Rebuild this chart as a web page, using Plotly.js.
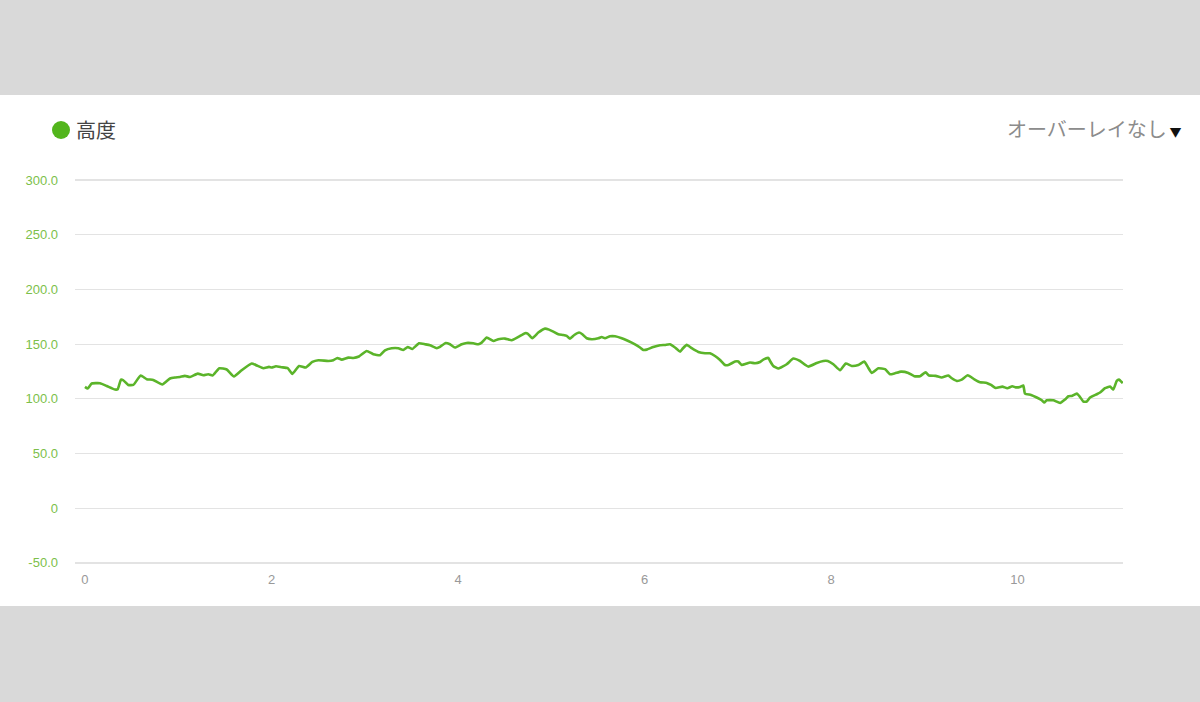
<!DOCTYPE html>
<html>
<head>
<meta charset="utf-8">
<script src="https://cdn.plot.ly/plotly-3.0.1.min.js"></script>
<style>
html,body{margin:0;padding:0;width:1200px;height:702px;background:#d9d9d9;overflow:hidden;}
#panel{position:absolute;left:0;top:95px;width:1200px;height:511px;background:#ffffff;}
#chart{position:absolute;left:0;top:0;width:1200px;height:702px;}
</style>
</head>
<body>
<div id="panel"></div>
<div id="chart"></div>
<script>
const seriesName = "高度";
const overlayLabel = "オーバーレイなし";
const distance = [0,0.029,0.072,0.161,0.233,0.322,0.351,0.386,0.411,0.464,0.518,0.597,0.662,0.732,0.829,0.912,0.965,1.019,1.072,1.126,1.209,1.269,1.322,1.369,1.440,1.520,1.598,1.680,1.788,1.853,1.912,1.973,2.002,2.048,2.109,2.174,2.223,2.295,2.367,2.438,2.502,2.609,2.663,2.706,2.753,2.824,2.877,2.938,3.021,3.092,3.164,3.217,3.289,3.360,3.413,3.461,3.510,3.582,3.646,3.700,3.772,3.807,3.868,3.914,3.968,4.040,4.093,4.164,4.218,4.254,4.308,4.379,4.432,4.504,4.576,4.647,4.718,4.747,4.797,4.861,4.933,4.976,5.022,5.076,5.129,5.166,5.201,5.247,5.298,5.333,5.380,5.434,5.505,5.541,5.576,5.630,5.684,5.756,5.826,5.898,5.952,5.987,6.024,6.094,6.166,6.220,6.273,6.320,6.381,6.410,6.453,6.506,6.577,6.649,6.702,6.756,6.810,6.863,6.899,6.971,7.006,7.042,7.096,7.131,7.185,7.239,7.274,7.328,7.346,7.381,7.435,7.525,7.596,7.668,7.756,7.847,7.917,7.965,8.025,8.097,8.158,8.222,8.293,8.357,8.394,8.437,8.507,8.579,8.633,8.686,8.751,8.829,8.893,8.954,9.015,9.051,9.123,9.187,9.258,9.295,9.348,9.402,9.466,9.537,9.598,9.670,9.716,9.766,9.837,9.890,9.944,9.981,10.027,10.062,10.080,10.145,10.206,10.260,10.287,10.313,10.384,10.456,10.509,10.545,10.581,10.635,10.670,10.706,10.742,10.777,10.849,10.885,10.938,10.992,11.027,11.064,11.088,11.128];
const elevation = [110.9,109.4,114,114.3,111.8,108.5,108.8,117.6,117,112.7,112.7,121.3,118,117.3,113.1,118.6,119.5,120,121,120,123.1,121.6,122.5,121.3,128,126.8,120.4,126.1,132.3,130.1,128,129.2,128.7,129.8,128.9,128,122.8,130.1,128.6,133.7,135.3,134.6,135.3,137.4,135.9,137.7,137.4,138.7,143.8,140.8,139.9,144.4,146.3,146.3,144.7,147.4,145.6,150.8,149.9,149,146.3,147.5,151.1,149.9,146.9,149.9,151.1,150.8,149.9,151.4,156,152.9,154.5,155.1,153.6,156.6,160,159.7,155.4,160.6,164.2,163.3,161.5,159.1,158.4,157.5,155.1,158.4,160.6,159.1,155.4,154.5,155.4,156.6,155.4,157.2,157.2,155.4,152.9,149.9,146.9,144.7,145,147.4,149,149.3,149.9,147.4,143.2,146,149.3,146.3,142.9,141.7,141.7,139.2,135.6,131,131,134.1,134.1,131,132.3,133.2,132.5,133.7,135.9,137.4,134.6,130.1,127.7,131.6,136.8,134.6,129.5,132.8,134.6,134.6,131.6,126.1,132.3,130.1,131,134.1,129.2,123.7,128,127.1,122.5,123.4,124.9,123.7,120.7,120.7,124.3,121.3,121,119.5,121.3,118.8,116.4,117.6,121.6,117.9,115.2,114.6,112.7,110,111.2,109.7,111.5,110.5,110.9,112.2,104.8,103.6,101.2,98.7,96.6,98.7,98.7,96.3,99.4,102.4,102.7,104.8,101.7,97.5,97.5,101.2,104.2,105.8,109.7,111.2,108.5,116.4,117.6,114.3];
const yTickVals = [-50,0,50,100,150,200,250,300];
const yTickText = ["-50.0","0","50.0","100.0","150.0","200.0","250.0","300.0"];
const xTickVals = [0,2,4,6,8,10];
const xTickText = ["0","2","4","6","8","10"];

const trace = {
  x: distance, y: elevation, type: 'scatter', mode: 'lines',
  line: {color: '#5bb42a', width: 2.6, shape: 'spline', smoothing: 0.4},
  name: seriesName, showlegend: false, hoverinfo: 'x+y'
};

const layout = {
  width: 1200, height: 702,
  margin: {l: 75, r: 77, t: 179, b: 138, pad: 0},
  paper_bgcolor: 'rgba(0,0,0,0)', plot_bgcolor: 'rgba(0,0,0,0)',
  showlegend: false,
  font: {family: 'Liberation Sans, Arial, sans-serif'},
  xaxis: {
    range: [-0.107, 11.131], tickvals: xTickVals, ticktext: xTickText,
    showgrid: false, zeroline: false, showline: false, ticks: '',
    tickfont: {size: 13, color: '#999999'}, ticklabelstandoff: 6
  },
  yaxis: {
    range: [-51, 301], tickvals: yTickVals, ticktext: yTickText,
    showgrid: true, gridcolor: '#e3e3e3', gridwidth: 1.3, zeroline: false, showline: false, ticks: '',
    tickfont: {size: 13, color: '#7cbf4a'}, ticklabelstandoff: 16
  },
  shapes: [
    {type: 'circle', xref: 'paper', yref: 'paper', x0: -0.02195, x1: -0.00477, y0: 1.1039, y1: 1.1506,
     fillcolor: '#52b51c', line: {width: 0}}
  ],
  annotations: [
    {text: seriesName, xref: 'paper', yref: 'paper', x: -0.001, y: 1.1273, xanchor: 'left', yanchor: 'middle',
     showarrow: false, font: {size: 20, color: '#444444', family: 'Noto Sans CJK JP, sans-serif'}},
    {text: overlayLabel + "<span style='color:#111111;font-size:12px'> ▼</span>", xref: 'paper', yref: 'paper',
     x: 1.0583, y: 1.1299, xanchor: 'right', yanchor: 'middle', showarrow: false,
     font: {size: 20, color: '#8c8c8c', family: 'Noto Sans CJK JP, sans-serif'}}
  ]
};

Plotly.newPlot('chart', [trace], layout, {displayModeBar: false, staticPlot: true});
</script>
</body>
</html>
